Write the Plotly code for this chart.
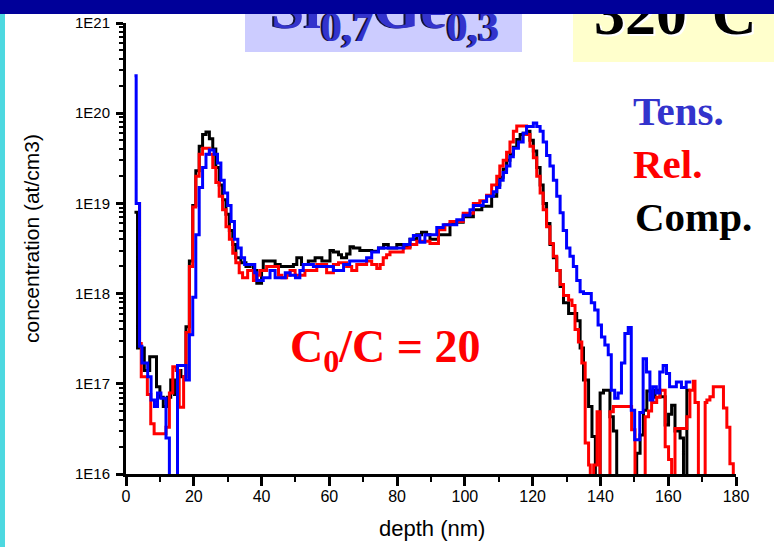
import plotly.graph_objects as go

# ---------------- data ----------------
tens_depth = [2.5, 3.0, 4.0, 4.7, 6.4, 7.4, 8.4, 9.3, 10.3, 11.8, 12.8, 15.2, 17.7, 18.7, 19.7,
              20.6, 21.6, 22.6, 23.6, 24.6, 26.0, 27.0, 28.0, 29.0, 30.0, 31.0, 32.0, 33.0, 34.0,
              35.0, 38.0, 38.6, 40.5, 42.5, 44.0, 47.0, 48.4, 50.0, 51.3, 52.3, 55.3, 61.2, 64.2,
              66.0, 71.0, 72.5, 74.5, 82.0, 83.8, 84.8, 86.7, 88.2, 91.7, 93.6, 97.6, 99.5, 101.5,
              102.5, 105.4, 106.4, 108.4, 109.4, 110.3, 111.3, 112.3, 113.3, 114.3, 115.8, 117.2,
              118.2, 120.2, 121.2, 122.2, 123.1, 124.1, 125.1, 126.1, 127.1, 128.1, 129.0, 130.0,
              131.0, 132.0, 133.0, 134.0, 135.0, 137.3, 138.3, 139.3, 140.3, 141.3, 142.3, 143.2,
              144.2, 145.2, 146.2, 147.2, 148.2, 149.1, 150.1, 151.6, 152.6, 153.6, 154.6, 155.5,
              156.5, 157.5, 158.5, 159.5, 160.4, 162.4, 163.9, 165.3, 166.8]
tens_conc = [2.6e20, 1.0e19, 2.6e17, 1.7e17, 1.2e17, 6.6e16, 5.6e16, 7.9e16, 6.9e16, 2.5e16, 1e15,
             1.6e17, 1.1e17, 3.5e17, 9.1e17, 4.5e18, 1.5e19, 2.5e19, 3.5e19, 3.9e19, 3.5e19, 2.8e19,
             1.8e19, 1.3e19, 9.5e18, 6.3e18, 4.0e18, 3.2e18, 2.5e18, 2.1e18, 1.7e18, 1.4e18, 1.5e18,
             1.8e18, 1.5e18, 1.7e18, 1.6e18, 1.5e18, 1.8e18, 2.1e18, 2.0e18, 1.8e18, 2.1e18, 2.3e18,
             2.5e18, 2.9e18, 3.2e18, 3.5e18, 4.0e18, 4.4e18, 3.7e18, 4.5e18, 5.4e18, 5.8e18, 6.6e18,
             7.4e18, 8.5e18, 9.5e18, 1.05e19, 1.2e19, 1.35e19, 1.5e19, 1.8e19, 2.2e19, 2.6e19,
             3.3e19, 4.1e19, 4.8e19, 6.0e19, 7.1e19, 7.8e19, 7.1e19, 6.3e19, 4.8e19, 3.4e19, 2.6e19,
             1.8e19, 1.2e19, 7.9e18, 5.0e18, 3.2e18, 2.6e18, 2.0e18, 1.4e18, 1.05e18, 1.0e18, 7.9e17,
             6.6e17, 4.5e17, 3.3e17, 2.7e17, 2.1e17, 8.5e16, 6.9e16, 7.9e16, 1.7e17, 3.6e17, 4.2e17,
             5.1e16, 2.4e16, 4.8e16, 1.9e17, 1.35e17, 6.6e16, 9.3e16, 7.9e16, 1.35e17, 1.6e17,
             1.3e17, 9.3e16, 1.05e17, 9.1e16, 1.05e17, 1.05e17]

rel_depth = [3.0, 4.0, 4.5, 6.3, 7.3, 8.3, 11.8, 12.8, 13.8, 14.8, 15.7, 17.0, 17.7, 18.7, 19.7,
             20.6, 21.6, 22.6, 24.6, 25.6, 26.5, 27.5, 28.5, 29.5, 30.5, 31.5, 32.4, 33.4, 34.4,
             35.9, 37.6, 38.6, 39.5, 41.5, 45.0, 46.0, 47.4, 48.4, 49.9, 52.8, 56.3, 59.2, 61.2,
             62.7, 65.1, 66.6, 68.1, 71.0, 72.5, 74.0, 75.0, 75.9, 76.9, 77.9, 81.8, 83.8, 85.8,
             89.7, 92.2, 94.1, 95.6, 99.5, 102.5, 104.4, 106.4, 107.9, 109.4, 110.3, 111.3, 112.3,
             113.3, 114.3, 115.3, 118.2, 119.2, 120.2, 121.2, 122.2, 123.1, 124.1, 125.1, 126.1,
             127.1, 128.1, 129.1, 130.6, 131.6, 132.5, 133.5, 134.5, 135.5, 136.5, 137.0, 138.0,
             139.0, 139.9, 142.8, 143.8, 149.2, 150.2, 153.2, 154.2, 155.1, 156.6, 157.6, 159.1,
             160.1, 161.0, 162.0, 165.5, 166.4, 167.4, 167.9, 168.9, 170.9, 171.4, 172.3, 173.3,
             176.3, 177.3, 178.2, 179.2, 180.0]
rel_conc = [1.0e19, 2.8e17, 1.2e17, 7.6e16, 3.6e16, 2.8e16, 3.3e16, 7.9e16, 1.55e17, 1.4e17, 5.5e16,
            1.2e17, 3.7e17, 2.0e18, 9.1e18, 2.0e19, 3.5e19, 4.1e19, 3.5e19, 2.5e19, 1.7e19, 1.2e19,
            8.5e18, 5.5e18, 4.0e18, 2.8e18, 2.2e18, 1.7e18, 1.5e18, 1.8e18, 1.4e18, 1.6e18, 1.8e18,
            2.0e18, 1.6e18, 1.5e18, 1.6e18, 1.8e18, 1.6e18, 1.8e18, 2.1e18, 1.7e18, 2.1e18, 2.2e18,
            2.0e18, 1.8e18, 2.1e18, 2.3e18, 2.1e18, 1.9e18, 2.1e18, 2.5e18, 2.7e18, 2.9e18, 3.2e18,
            3.5e18, 3.8e18, 3.6e18, 5.1e18, 5.8e18, 6.3e18, 7.8e18, 1.0e19, 1.07e19, 1.23e19, 1.6e19,
            2.0e19, 2.6e19, 3.0e19, 3.7e19, 4.8e19, 6.3e19, 7.2e19, 5.8e19, 4.3e19, 3.2e19, 2.0e19,
            1.3e19, 8.5e18, 5.5e18, 3.6e18, 2.6e18, 1.8e18, 1.26e18, 9.5e17, 8.5e17, 7.4e17, 4.0e17,
            2.9e17, 1.7e17, 2.2e16, 1.26e16, 1e15, 1.26e16, 4.9e16, 1e15, 4.9e16, 5.6e16, 3.1e16,
            1e15, 4.3e16, 5.0e16, 6.2e16, 7.1e16, 8.5e16, 2.0e16, 1.45e16, 1e15, 3.2e16, 4.3e16,
            8.5e16, 1.07e17, 6.2e16, 1e15, 6.2e16, 6.6e16, 7.2e16, 9.3e16, 5.4e16, 3.3e16, 1.3e16,
            1e15, 1e15]

comp_depth = [2.5, 3.4, 5.4, 7.0, 9.0, 10.0, 11.0, 12.2, 13.2, 14.3, 15.2, 16.2, 17.7, 18.7, 19.7,
              20.6, 21.6, 22.6, 23.6, 24.6, 25.6, 26.5, 27.5, 28.5, 29.5, 30.5, 31.5, 32.4, 33.9,
              35.4, 36.6, 37.6, 38.6, 40.0, 40.5, 44.0, 45.5, 49.4, 50.4, 51.8, 53.8, 55.8, 57.8,
              60.2, 61.2, 62.7, 63.6, 65.1, 66.1, 67.1, 69.0, 72.5, 74.5, 76.0, 77.4, 79.9, 81.8,
              83.8, 85.8, 87.2, 88.7, 89.7, 92.2, 95.6, 97.1, 99.5, 102.5, 105.0, 107.9, 109.4,
              110.3, 111.3, 112.3, 113.3, 114.3, 115.3, 116.3, 117.2, 118.2, 119.2, 120.2, 121.2,
              122.2, 123.1, 124.1, 125.1, 126.1, 127.1, 128.1, 129.1, 130.6, 133.0, 134.0, 135.0,
              136.5, 137.5, 138.5, 139.9, 140.9, 142.8, 143.8, 144.8, 150.7, 151.7, 152.7, 153.7,
              155.1, 156.1, 157.6, 159.1, 160.1, 161.0, 162.0, 163.5, 164.5, 165.5, 166.6]
comp_conc = [8.0e18, 2.5e17, 1.4e17, 2.0e17, 9.3e16, 7.1e16, 5.6e16, 7.1e16, 1.1e17, 7.6e16, 1.4e17,
             1.2e17, 4.3e17, 2.3e18, 9.5e18, 2.3e19, 4.3e19, 5.8e19, 6.2e19, 5.2e19, 4.0e19, 2.5e19,
             1.6e19, 1.1e19, 7.6e18, 5.0e18, 3.5e18, 2.5e18, 2.2e18, 2.0e18, 2.1e18, 1.8e18, 1.3e18,
             1.8e18, 2.3e18, 2.1e18, 2.0e18, 2.1e18, 2.5e18, 2.1e18, 2.3e18, 2.5e18, 2.3e18, 3.0e18,
             2.9e18, 2.7e18, 2.5e18, 2.75e18, 3.3e18, 3.2e18, 3.0e18, 2.95e18, 3.2e18, 3.5e18, 3.2e18,
             3.5e18, 3.3e18, 4.0e18, 4.5e18, 4.8e18, 4.5e18, 4.0e18, 4.5e18, 5.9e18, 6.2e18, 7.1e18,
             8.5e18, 9.3e18, 1.2e19, 1.6e19, 1.95e19, 2.4e19, 3.0e19, 3.5e19, 4.2e19, 5.1e19, 5.8e19,
             6.0e19, 6.3e19, 5.0e19, 3.8e19, 2.5e19, 1.6e19, 1.0e19, 6.0e18, 3.5e18, 2.5e18, 1.8e18,
             1.2e18, 7.9e17, 6.0e17, 5.0e17, 2.5e17, 1.1e17, 5.6e16, 2.6e16, 1e15, 7.9e16, 8.5e16,
             4.3e16, 3.0e16, 1e15, 1.7e16, 2.7e16, 5.1e16, 8.3e16, 7.1e16, 8.5e16, 7.2e16, 3.5e16,
             4.6e16, 5.8e16, 3.0e16, 2.5e16, 1e15, 8.5e16, 8.5e16]

depth_ticks = [0, 20, 40, 60, 80, 100, 120, 140, 160, 180]
conc_ticks = [1e16, 1e17, 1e18, 1e19, 1e20, 1e21]
conc_ticktext = ["1E16", "1E17", "1E18", "1E19", "1E20", "1E21"]

series_names = ["Comp.", "Rel.", "Tens."]
series_colors = ["#000000", "#ff0000", "#0000ff"]

# ---------------- layout geometry (pixels) ----------------
W, H = 774, 547
PL, PR, PT, PB = 126, 736, 23, 474


def fx(x):
    return (x - PL) / (PR - PL)


def fy(y):
    return (PB - y) / (PB - PT)


fig = go.Figure()
for name, color, xs, ys in zip(series_names, series_colors,
                               [comp_depth, rel_depth, tens_depth],
                               [comp_conc, rel_conc, tens_conc]):
    fig.add_trace(go.Scatter(x=xs, y=ys, mode="lines", name=name,
                             line=dict(color=color, width=3, shape="hv")))

minor_log = [float(k) * 10.0 ** n for n in range(16, 21) for k in range(2, 10)]

fig.update_layout(
    width=W, height=H, autosize=False,
    margin=dict(l=PL, r=W - PR, t=PT, b=H - PB, pad=0),
    paper_bgcolor="white", plot_bgcolor="rgba(0,0,0,0)",
    showlegend=False,
    font=dict(family="Liberation Sans, Arial", color="black"),
)
fig.update_xaxes(range=[0, 180], showgrid=False, zeroline=False,
                 showline=True, linecolor="black", linewidth=3,
                 ticks="outside", ticklen=9, tickwidth=2.5, tickcolor="black",
                 tickvals=depth_ticks, ticktext=[str(v) for v in depth_ticks],
                 tickfont=dict(size=16, family="Liberation Sans"),
                 ticklabelstandoff=-3,
                 minor=dict(ticks="outside", ticklen=5, tickwidth=2, tickcolor="black",
                            tickvals=[10, 30, 50, 70, 90, 110, 130, 150, 170]))
fig.update_yaxes(type="log", range=[16, 21], showgrid=False, zeroline=False,
                 showline=True, linecolor="black", linewidth=3,
                 ticks="outside", ticklen=7, tickwidth=2.5, tickcolor="black",
                 tickvals=conc_ticks, ticktext=conc_ticktext,
                 tickfont=dict(size=15, family="Liberation Sans"),
                 ticklabelstandoff=3,
                 minor=dict(ticks="outside", ticklen=4, tickwidth=2, tickcolor="black",
                            tickvals=minor_log))

# slide decoration boxes
fig.add_shape(type="rect", xref="paper", yref="paper", x0=fx(0), x1=fx(5), y0=fy(547), y1=fy(13),
              fillcolor="#4dd8e0", line=dict(width=0), layer="below")
fig.add_shape(type="rect", xref="paper", yref="paper", x0=fx(245), x1=fx(522), y0=fy(52), y1=fy(13),
              fillcolor="#ccccff", line=dict(width=0), layer="below")
fig.add_shape(type="rect", xref="paper", yref="paper", x0=fx(573), x1=fx(774), y0=fy(62), y1=fy(13),
              fillcolor="#ffffcc", line=dict(width=0), layer="below")

serif = "Liberation Serif, Times New Roman"


def ann(text, x, y, size, color, xanchor="left", yanchor="middle", bold=True, angle=0, family=serif):
    fig.add_annotation(text=text, xref="paper", yref="paper", x=fx(x), y=fy(y),
                       xanchor=xanchor, yanchor=yanchor, showarrow=False, textangle=angle,
                       borderpad=0,
                       font=dict(family=family, size=size, color=color,
                                 weight="bold" if bold else "normal"))


# axis titles
ann("concentration (at/cm3)", 32, 239, 21, "black", xanchor="center", bold=False, angle=-90,
    family="Liberation Sans")
ann("depth (nm)", 432, 528, 22, "black", xanchor="center", bold=False, family="Liberation Sans")

# slide title pieces
title_txt = "Si<sub>0,7</sub>Ge<sub>0,3</sub>"
ann(title_txt, 383, 51, 60, "#111133", xanchor="center", yanchor="bottom")
ann(title_txt, 385, 51, 60, "#3333cc", xanchor="center", yanchor="bottom")
ann("320°C", 677, 50, 62, "white", xanchor="center", yanchor="bottom")
ann("320°C", 675, 48, 62, "black", xanchor="center", yanchor="bottom")

# top dark bar (drawn after the titles so it hides their tops)
fig.add_annotation(text=" ", xref="paper", yref="paper", x=fx(0), y=fy(0), xanchor="left",
                   yanchor="top", showarrow=False, width=W, height=14, bgcolor="#000099",
                   borderpad=0, borderwidth=0, font=dict(size=6))

# legend-like labels
ann("Tens.", 632, 111, 41, "#3333cc")
ann("Rel.", 632, 164, 41, "#ff0000")
ann("Comp.", 634, 217, 41, "#000000")
ann("C<sub>0</sub>/C = 20", 289, 350, 46, "#ff0000")

fig.write_html("out.html", config={"displayModeBar": False},
               post_script="document.body.style.margin='0';document.body.style.overflow='hidden';")
